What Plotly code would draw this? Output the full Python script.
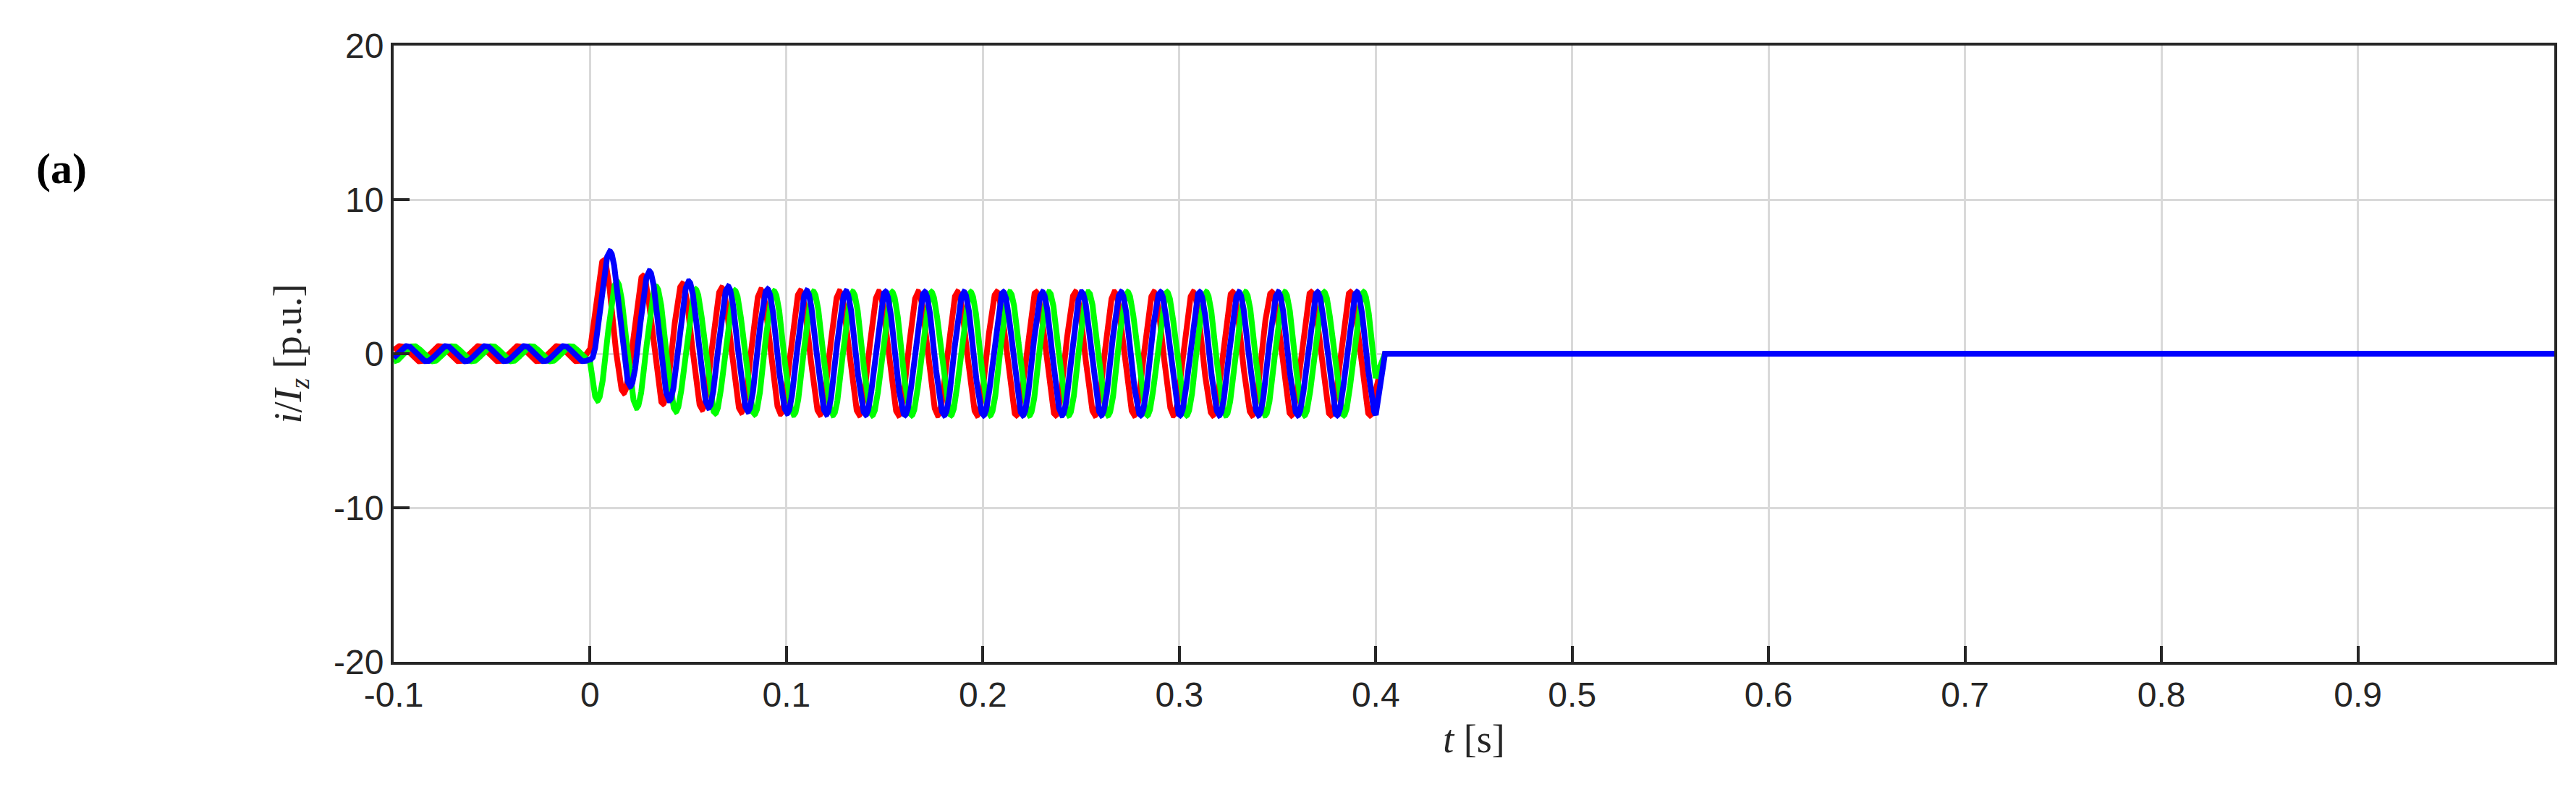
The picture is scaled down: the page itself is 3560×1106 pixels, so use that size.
import numpy as np
import plotly.graph_objects as go

# phase parameters
phase_names = ["A", "B", "C"]
phase_colors = ["#ff0000", "#00ff00", "#0000ff"]
pre_amp = [0.5, 0.5, 0.5]
fault_amp = [4.0, 4.0, 4.0]
peak_time = [0.007, 0.0137, 0.0103]   # time of first fault peak per phase [s]
pre_shift = [0.35, 0.35, 0.35]
freq = 50.0
t_fault = 0.0
t_clear = 0.4
ramp = 0.004
t_start, t_end = -0.1, 1.0
x_ticks = [-0.1, 0, 0.1, 0.2, 0.3, 0.4, 0.5, 0.6, 0.7, 0.8, 0.9]
x_ticklabels = ["-0.1", "0", "0.1", "0.2", "0.3", "0.4", "0.5", "0.6", "0.7", "0.8", "0.9"]
y_ticks = [-20, -10, 0, 10, 20]
y_ticklabels = ["-20", "-10", "0", "10", "20"]

t = np.linspace(t_start, t_end, 22001)
fig = go.Figure()
w = 2 * np.pi * freq
for k in range(3):
    pre = pre_amp[k] * np.cos(w * (t - peak_time[k]) + np.pi * pre_shift[k])
    pre0 = pre_amp[k] * np.cos(w * (t_fault - peak_time[k]) + np.pi * pre_shift[k])
    ac = fault_amp[k] * np.cos(w * (t - peak_time[k]))
    ac0 = fault_amp[k] * np.cos(w * (t_fault - peak_time[k]))
    fault = ac + (pre0 - ac0) * np.exp(-(t - t_fault) / 0.03)
    endv = fault_amp[k] * np.cos(w * (t_clear - peak_time[k]))
    rampv = endv * (1 - (t - t_clear) / ramp)
    y = np.where(t < t_fault, pre, np.where(t < t_clear, fault,
                 np.where(t < t_clear + ramp, rampv, 0.0)))
    fig.add_trace(go.Scatter(x=t, y=y, mode="lines", name=phase_names[k],
                             line=dict(color=phase_colors[k], width=8)))

axis_common = dict(showline=True, linecolor="#262626", linewidth=4, mirror=True,
                   ticks="inside", ticklen=22, tickwidth=4, tickcolor="#262626",
                   showgrid=True, gridcolor="#d9d9d9", gridwidth=3, zeroline=False,
                   tickfont=dict(family="Liberation Sans, Arial", size=48, color="#262626"))
fig.update_xaxes(range=[t_start, t_end], tickvals=x_ticks, ticktext=x_ticklabels,
                 title=dict(text="<i>t</i> [s]", font=dict(family="Liberation Serif", size=54, color="#262626"), standoff=18),
                 **axis_common)
fig.update_yaxes(range=[-20, 20], tickvals=y_ticks, ticktext=y_ticklabels,
                 title=dict(text="<i>i</i>/<i>I<sub>z</sub></i> [p.u.]", font=dict(family="Liberation Serif", size=54, color="#262626"), standoff=28),
                 **axis_common)
fig.update_layout(width=3560, height=1106, plot_bgcolor="white", paper_bgcolor="white",
                  showlegend=False, margin=dict(l=536, r=38, t=55, b=199),
                  annotations=[dict(text="<b>(a)</b>", x=(40 - 536) / (3560 - 536 - 38),
                                    y=1 - (225 - 55) / (1106 - 55 - 199),
                                    xref="paper", yref="paper", showarrow=False,
                                    xanchor="left", yanchor="middle",
                                    font=dict(family="Liberation Serif", size=60, color="black"))])
fig.write_html("out.html")
